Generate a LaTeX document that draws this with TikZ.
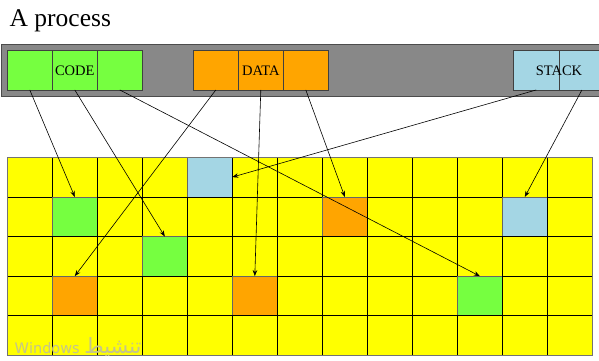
\documentclass[tikz,border=0pt]{standalone}
\usepackage{fontspec}
\setmainfont{Liberation Serif}
\newfontfamily\arabicfont[Script=Arabic]{DejaVu Sans}
\TeXXeTstate=1
\usetikzlibrary{arrows.meta}
\definecolor{cellyellow}{RGB}{255,255,0}
\definecolor{codegreen}{RGB}{118,255,64}
\definecolor{dataorange}{RGB}{255,165,0}
\definecolor{stackblue}{RGB}{164,214,228}
\definecolor{bargray}{RGB}{136,136,136}
\definecolor{wmcolor}{RGB}{196,196,140}
\begin{document}
\begin{tikzpicture}[x=1pt,y=-1pt,
  cell/.style={draw=black, line width=0.8pt, fill=cellyellow, minimum width=45pt, minimum height=39.6pt, inner sep=0pt, outer sep=0pt},
  seg/.style={draw=black!75, line width=0.8pt, minimum width=45pt, minimum height=39.3pt, inner sep=0pt, outer sep=0pt, font=\fontsize{14.5}{16}\selectfont},
  ptr/.style={line width=0.6pt, -{Stealth[length=6pt,width=4.5pt]}},
  cellcol 0-4/.style={fill=stackblue, draw=black!60},
  cellcol 1-1/.style={fill=codegreen, draw=black!60},
  cellcol 1-7/.style={fill=dataorange, draw=black!60},
  cellcol 1-11/.style={fill=stackblue, draw=black!60},
  cellcol 2-3/.style={fill=codegreen, draw=black!60},
  cellcol 3-1/.style={fill=dataorange, draw=black!60},
  cellcol 3-5/.style={fill=dataorange, draw=black!60},
  cellcol 3-10/.style={fill=codegreen, draw=black!60}]
\clip (0,0) rectangle (599,360);
\fill[white] (0,0) rectangle (599,360);

% title
\node[anchor=base west, font=\fontsize{25.5}{30}\selectfont, inner sep=0pt] (title) at (9.5,26.5) {A process};

% process bar
\draw[fill=bargray, draw=black!70, line width=1pt] (1.7,44.3) rectangle (610,96);

% code segment
\node[seg, fill=codegreen] (code1) at (29.8,70.3) {};
\node[seg, fill=codegreen] (code2) at (74.8,70.3) {CODE};
\node[seg, fill=codegreen] (code3) at (119.8,70.3) {};
% data segment
\node[seg, fill=dataorange] (data1) at (215.8,70.3) {};
\node[seg, fill=dataorange] (data2) at (260.8,70.3) {DATA};
\node[seg, fill=dataorange] (data3) at (305.8,70.3) {};
% stack segment
\node[seg, fill=stackblue, minimum width=45.7pt] (stack1) at (536.2,70.3) {};
\node[seg, fill=stackblue, minimum width=45.7pt] (stack2) at (581.9,70.3) {};
\node[font=\fontsize{14.5}{16}\selectfont, inner sep=0pt] (stacklbl) at (559,70.3) {STACK};

% memory grid
\foreach \r in {0,...,4} {
  \foreach \c in {0,...,12} {
    \node[cell, cellcol \r-\c/.try] (g-\r-\c) at ({29.8+45*\c},{177.1+39.6*\r}) {};
  }
}
\draw[black!55, line width=1pt] (g-0-0.north west) rectangle (g-4-12.south east);

% pointers
\draw[ptr] (code1.south) -- (g-1-1.north);
\draw[ptr] (code2.south) -- (g-2-3.north);
\draw[ptr] (code3.south) -- (g-3-10.north);
\draw[ptr] (data1.south) -- (g-3-1.north);
\draw[ptr] (data2.south) -- (g-3-5.north);
\draw[ptr] (data3.south) -- (g-1-7.north);
\draw[ptr] (stack1.south) -- (g-0-4.east);
\draw[ptr] (stack2.south) -- (g-1-11.north);

% watermark
\node[anchor=base west, inner sep=0pt, text=wmcolor, font=\arabicfont\fontsize{14.5}{16}\selectfont] (wm) at (14.5,353) {Windows {\fontsize{21}{22}\selectfont\beginR تنشيط\endR}};
\end{tikzpicture}
\end{document}
